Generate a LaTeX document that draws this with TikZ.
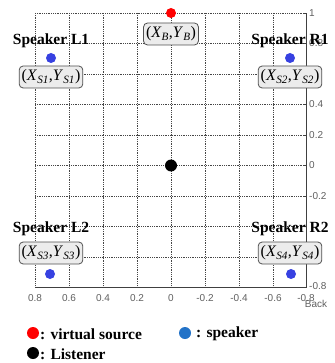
\documentclass[tikz,border=0pt]{standalone}
\usepackage{fontspec}
\setmainfont{Liberation Serif}
\newfontfamily\axisfont{Liberation Sans}
\definecolor{gridgray}{RGB}{70,70,70}
\definecolor{spkblue}{RGB}{55,65,225}
\definecolor{legblue}{RGB}{35,115,200}
\definecolor{boxfill}{RGB}{236,236,236}
\definecolor{boxdraw}{RGB}{80,80,80}
\definecolor{ticklab}{RGB}{95,95,95}
\begin{document}
\begin{tikzpicture}[x=1pt,y=-1pt,
  gridline/.style={gridgray, densely dotted, line width=0.8pt},
  axisline/.style={black!75, line width=0.8pt},
  tick/.style={font=\axisfont\fontsize{10}{11}\selectfont, text=ticklab, inner sep=0pt},
  coordbox/.style={draw=boxdraw, fill=boxfill, rounded corners=4pt, line width=0.8pt,
    inner xsep=2.5pt, inner ysep=2pt, minimum height=22pt,
    font=\fontsize{16}{18}\selectfont},
  spklabel/.style={font=\bfseries\fontsize{15.5}{17}\selectfont, inner sep=0pt},
  legtext/.style={font=\bfseries\fontsize{15.5}{17}\selectfont, inner sep=0pt, anchor=west},
  dot/.style={circle, inner sep=0pt, minimum size=#1}
]
\useasboundingbox (0,0) rectangle (334,363);
% grid
\foreach \gx in {35,69,103,137,171,205,239,273}
  \draw[gridline] (\gx,13) -- (\gx,287.5);
\foreach \gy in {13,43.5,74,104.5,135,165.5,196,226.5,257}
  \draw[gridline] (35,\gy) -- (306,\gy);
% axes
\draw[axisline] (35,287.5) -- (306,287.5) -- (306,13);
\foreach \gy in {13,43.5,74,104.5,135,165.5,196,226.5,257}
  \draw[axisline] (306,\gy) -- (303,\gy);
% right tick labels
\node[tick, anchor=west] (r1) at (309,13) {1};
\node[tick, anchor=west] (r08) at (309,43.5) {0.8};
\node[tick, anchor=west] (r04) at (309,104.5) {0.4};
\node[tick, anchor=west] (r02) at (309,135) {0.2};
\node[tick, anchor=west] (r0) at (309,165.5) {0};
\node[tick, anchor=west] (rm02) at (309,196) {-0.2};
\node[tick, anchor=west] (rm08) at (309,286) {-0.8};
% bottom tick labels
\node[tick] (b1) at (35,298) {0.8};
\node[tick] (b2) at (69,298) {0.6};
\node[tick] (b3) at (103,298) {0.4};
\node[tick] (b4) at (137,298) {0.2};
\node[tick] (b5) at (171,298) {0};
\node[tick] (b6) at (205,298) {-0.2};
\node[tick] (b7) at (239,298) {-0.4};
\node[tick] (b8) at (273,298) {-0.6};
\node[tick] (b9) at (306,298) {-0.8};
\node[tick] (back) at (316,304) {Back};
% virtual source and listener
\node[dot=10pt, fill=red] (src) at (171,13) {};
\node[coordbox] (boxB) at (171,34) {(\textit{X}\textsubscript{\textit{B}},\textit{Y}\textsubscript{\textit{B}})};
\node[dot=12pt, fill=black] (lis) at (171,165.5) {};
% speakers
\node[spklabel] (tL1) at (51,41) {Speaker L1};
\node[dot=10pt, fill=spkblue] (sL1) at (51,58) {};
\node[coordbox] (boxL1) at (51,77) {(\textit{X}\textsubscript{\textit{S1}},\textit{Y}\textsubscript{\textit{S1}})};
\node[spklabel] (tR1) at (290,41) {Speaker R1};
\node[dot=10pt, fill=spkblue] (sR1) at (290,58) {};
\node[coordbox] (boxR1) at (290,77) {(\textit{X}\textsubscript{\textit{S2}},\textit{Y}\textsubscript{\textit{S2}})};
\node[spklabel] (tL2) at (51,229) {Speaker L2};
\node[coordbox] (boxL2) at (51,253) {(\textit{X}\textsubscript{\textit{S3}},\textit{Y}\textsubscript{\textit{S3}})};
\node[dot=10pt, fill=spkblue] (sL2) at (50,274) {};
\node[spklabel] (tR2) at (290,229) {Speaker R2};
\node[coordbox] (boxR2) at (290,253) {(\textit{X}\textsubscript{\textit{S4}},\textit{Y}\textsubscript{\textit{S4}})};
\node[dot=10pt, fill=spkblue] (sR2) at (291,274) {};
% legend
\node[dot=12pt, fill=red] (lgR) at (33,333) {};
\node[legtext] (lgRt) at (40,334) {: virtual source};
\node[dot=12pt, fill=black] (lgK) at (33,353) {};
\node[legtext] (lgKt) at (40,354) {: Listener};
\node[dot=12pt, fill=legblue] (lgB) at (185,333) {};
\node[legtext] (lgBt) at (196,334) {: speaker};
\end{tikzpicture}
\end{document}
